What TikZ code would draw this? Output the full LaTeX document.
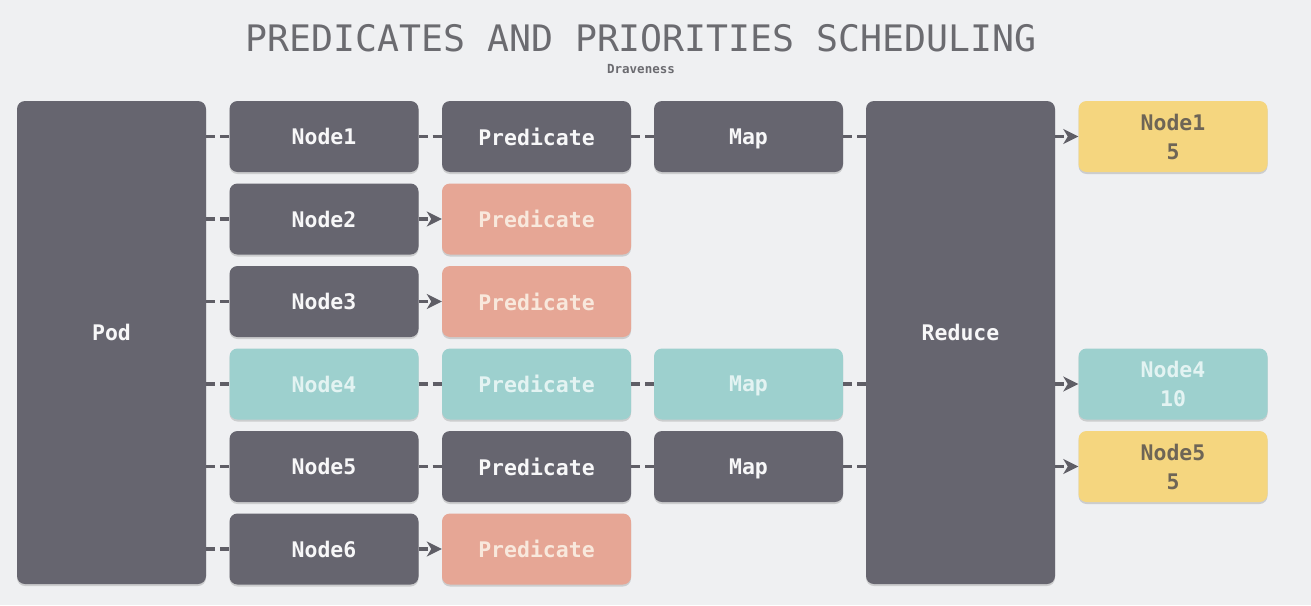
\documentclass[tikz,border=0pt]{standalone}
\usepackage{fontspec}
\setmonofont{DejaVu Sans Mono}
\usetikzlibrary{arrows.meta,shadows}
\definecolor{bg}{HTML}{EFF0F2}
\definecolor{dk}{HTML}{66656F}
\definecolor{sal}{HTML}{E6A695}
\definecolor{tea}{HTML}{9DD0CE}
\definecolor{yel}{HTML}{F5D67F}
\definecolor{ttl}{HTML}{6B6B70}
\definecolor{ln}{HTML}{5F5E66}
\definecolor{yeltxt}{HTML}{6E6556}
\definecolor{saltxt}{HTML}{F8E8DC}
\definecolor{teatxt}{HTML}{E3F3F2}
\newcommand{\nodep}[1]{\raisebox{0pt}[\height][0pt]{#1}}
\begin{document}
\begin{tikzpicture}[x=1pt,y=-1pt,
  box/.style={rounded corners=8pt,minimum width=189pt,minimum height=71pt,inner sep=0pt,
    font=\ttfamily\bfseries\fontsize{21.5}{29}\selectfont,align=center,
    drop shadow={shadow xshift=0pt,shadow yshift=-2pt,opacity=0.25,fill=black!60}},
  dkbox/.style={box,fill=dk,text=white!95!dk},
  salbox/.style={box,fill=sal,text=saltxt},
  teabox/.style={box,fill=tea,text=teatxt},
  yelbox/.style={box,fill=yel,text=yeltxt},
  tall/.style={minimum height=483pt},
  lbl/.style={font=\ttfamily\bfseries\fontsize{21.5}{29}\selectfont,text=white!95!dk},
  con/.style={draw=ln,line width=3.5pt,dash pattern=on 9pt off 5pt},
  arr/.style={con,-{Stealth[length=15pt,width=15pt,inset=4.5pt]}}]
\fill[bg] (0,0) rectangle (1311,605);
\node[font=\ttfamily\fontsize{36.5}{40}\selectfont,text=ttl] (title) at (641,38) {PREDICATES AND PRIORITIES SCHEDULING};
\node[font=\ttfamily\bfseries\fontsize{12.5}{14}\selectfont,text=ttl] (sub) at (641,69) {Draveness};
\node[dkbox,tall] (pod) at (111.5,342.5) {};
\node[lbl] (podt) at (111.5,332) {\nodep{Pod}};
\node[dkbox,tall] (red) at (960.5,342.5) {};
\node[lbl] (redt) at (960.5,332) {\nodep{Reduce}};
% column 2
\node[dkbox] (n1) at (324,136.5) {\nodep{Node1}};
\node[dkbox] (n2) at (324,219) {\nodep{Node2}};
\node[dkbox] (n3) at (324,301.5) {\nodep{Node3}};
\node[teabox] (n4) at (324,384) {\nodep{Node4}};
\node[dkbox] (n5) at (324,466.5) {\nodep{Node5}};
\node[dkbox] (n6) at (324,549) {\nodep{Node6}};
% predicates
\node[dkbox] (p1) at (536.5,136.5) {\nodep{Predicate}};
\node[salbox] (p2) at (536.5,219) {\nodep{Predicate}};
\node[salbox] (p3) at (536.5,301.5) {\nodep{Predicate}};
\node[teabox] (p4) at (536.5,384) {\nodep{Predicate}};
\node[dkbox] (p5) at (536.5,466.5) {\nodep{Predicate}};
\node[salbox] (p6) at (536.5,549) {\nodep{Predicate}};
% maps
\node[dkbox] (m1) at (748.5,136.5) {\nodep{Map}};
\node[teabox] (m4) at (748.5,384) {\nodep{Map}};
\node[dkbox] (m5) at (748.5,466.5) {\nodep{Map}};
% results
\node[yelbox] (r1) at (1173,136.5) {Node1\\5};
\node[teabox] (r4) at (1173,384) {Node4\\10};
\node[yelbox] (r5) at (1173,466.5) {Node5\\5};
% connectors
\foreach \n in {n1,n2,n3,n4,n5,n6}
  \draw[con] (pod.east |- \n.west) -- (\n.west);
\draw[con] (n1) -- (p1);
\draw[arr] (n2) -- (p2);
\draw[arr] (n3) -- (p3);
\draw[con] (n4) -- (p4);
\draw[con] (n5) -- (p5);
\draw[arr] (n6) -- (p6);
\draw[con] (p1) -- (m1);
\draw[con] (p4) -- (m4);
\draw[con] (p5) -- (m5);
\foreach \m in {m1,m4,m5}
  \draw[con] (\m.east) -- (red.west |- \m.east);
\foreach \r in {r1,r4,r5}
  \draw[arr] (red.east |- \r.west) -- (\r.west);
\end{tikzpicture}
\end{document}
